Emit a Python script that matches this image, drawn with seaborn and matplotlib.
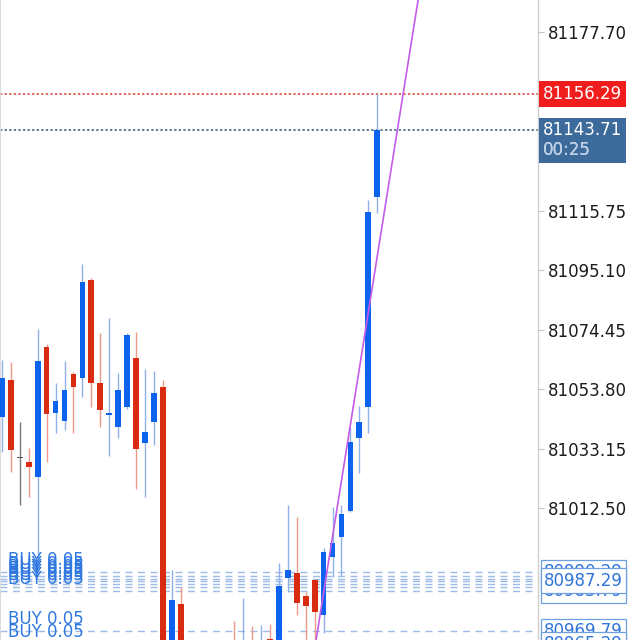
import numpy as np
import pandas as pd
import seaborn as sns
import matplotlib
matplotlib.use("Agg")
import matplotlib.pyplot as plt
from matplotlib.transforms import offset_copy

# ---------------- data ----------------
opens = [81044.1, 81057.0, 81029.9, 81028.5, 81023.3, 81068.4, 81045.5, 81042.7, 81059.1, 81057.7,
         81091.7, 81055.9, 81044.8, 81040.7, 81047.6, 81064.6, 81035.1, 81042.4, 81054.5, 80955.5,
         80979.2, 80958.0, 80950.0, 80956.0, 80948.0, 80952.0, 80962.0, 80950.0, 80963.0, 80952.0,
         80967.0, 80960.0, 80988.2, 80990.0, 80982.0, 80987.5, 80975.4, 80995.5, 81002.5, 81011.5,
         81036.8, 81047.6, 81120.5]
highs = [81063.9, 81063.2, 81042.4, 81033.4, 81074.7, 81069.5, 81055.9, 81063.6, 81059.8, 81097.3,
         81092.4, 81073.3, 81078.5, 81059.4, 81073.3, 81073.6, 81060.8, 81060.1, 81057.0, 80991.0,
         80985.1, 80962.0, 80958.0, 80960.0, 80957.0, 80960.0, 80973.3, 80981.3, 80971.6, 80971.9,
         80972.2, 80993.4, 81013.6, 81009.4, 80983.4, 80987.9, 80998.6, 81012.9, 81013.6, 81040.7,
         81047.9, 81119.5, 81156.29]
lows = [81032.0, 81025.0, 81013.6, 81016.4, 80995.2, 81028.5, 81038.6, 81039.6, 81038.6, 81051.1,
        81047.6, 81040.7, 81030.6, 81036.8, 81046.9, 81019.1, 81016.4, 81034.4, 80950.0, 80950.0,
        80952.0, 80940.0, 80942.0, 80944.0, 80940.0, 80945.0, 80950.0, 80945.0, 80948.0, 80946.0,
        80952.0, 80955.0, 80983.4, 80975.4, 80962.0, 80960.0, 80969.1, 80988.6, 80988.9, 81011.0,
        81024.7, 81038.6, 81115.0]
closes = [81057.7, 81032.7, 81029.9, 81026.8, 81063.6, 81045.2, 81049.7, 81053.5, 81054.5, 81091.0,
          81055.9, 81046.6, 81045.5, 81053.5, 81072.6, 81033.0, 81038.9, 81052.5, 80955.0, 80980.6,
          80958.0, 80950.0, 80956.0, 80948.0, 80952.0, 80962.0, 80955.0, 80962.0, 80955.0, 80963.0,
          80960.0, 80985.5, 80991.0, 80979.5, 80978.5, 80976.4, 80997.3, 81000.4, 81010.4, 81035.4,
          81042.4, 81115.3, 81143.71]

trend_x = [35.0, 47.0]
trend_y = [80963.6, 81197.1]

buy_prices = [80990.29, 80988.90, 80987.90, 80987.29, 80986.10, 80985.10, 80983.79, 80969.79, 80965.29]
buy_label = "BUY 0.05"
buy_right_labels = ["80990.29", "80983.79", "80987.29", "80969.79", "80965.29"]
buy_right_prices = [80990.29, 80983.79, 80987.29, 80969.79, 80965.29]

high_price = 81156.29
last_price = 81143.71
countdown = "00:25"

ytick_values = [81012.50, 81033.15, 81053.80, 81074.45, 81095.10, 81115.75, 81136.40, 81157.05, 81177.70]
ytick_labels = ["81012.50", "81033.15", "81053.80", "81074.45", "81095.10", "81115.75", "", "", "81177.70"]

# ---------------- styling ----------------
sns.set_theme(style="white")
plt.rcParams['font.family'] = ['DejaVu Sans']

UP = "#0d62ee"
DOWN = "#d92b12"
DOJI = "#555555"
UP_W = "#8fb0ea"
DOWN_W = "#ef9a88"
FS = 12

df = pd.DataFrame({"i": np.arange(len(opens)), "open": opens, "high": highs,
                   "low": lows, "close": closes})

fig = plt.figure(figsize=(6.4, 6.4), dpi=100)
ax = fig.add_axes([0, 0, 538 / 640, 1])

body_col, wick_col = [], []
for o, c in zip(df["open"], df["close"]):
    if c > o:
        body_col.append(UP); wick_col.append(UP_W)
    elif c < o:
        body_col.append(DOWN); wick_col.append(DOWN_W)
    else:
        body_col.append(DOJI); wick_col.append("#777777")

ax.vlines(df["i"], df["low"], df["high"], colors=wick_col, linewidth=1.0, zorder=2)
bottoms = np.minimum(df["open"], df["close"])
heights = np.maximum(np.abs(df["close"] - df["open"]), 0.45)
ax.bar(df["i"], heights, bottom=bottoms, width=0.64, color=body_col, linewidth=0, zorder=3)

# buy order lines
for p in buy_prices:
    ax.axhline(p, color="#9dbbe6", linewidth=1.0, linestyle=(0, (5, 4)), zorder=1)

# high / last price lines
ax.axhline(high_price, color="#dd3b30", linewidth=1.1, linestyle=(0, (1.5, 1.5)), zorder=1)
ax.axhline(last_price, color="#34567c", linewidth=1.1, linestyle=(0, (1.5, 1.5)), zorder=1)

# trend line via seaborn
sns.lineplot(x=trend_x, y=trend_y, ax=ax, color="#c35ce8", linewidth=1.2, zorder=4)

ax.set_xlim(-0.22, 60.0)
ax.set_ylim(80966.7, 81188.9)

ax.yaxis.tick_right()
ax.set_yticks(ytick_values)
ax.set_yticklabels(ytick_labels)
ax.tick_params(axis="y", which="major", direction="out", length=4, width=0.8,
               color="#c4c4c4", pad=3, labelsize=FS, labelcolor="#1c1c1c", right=True)
ax.set_xticks([])
for s in ["top", "bottom"]:
    ax.spines[s].set_visible(False)
ax.spines["right"].set_color("#cfcfcf")
ax.spines["right"].set_linewidth(1.0)
ax.spines["left"].set_color("#dcdcdc")
ax.spines["left"].set_linewidth(1.5)

# BUY labels on the left
ytr = ax.get_yaxis_transform()
tr_buy = offset_copy(ytr, fig=fig, x=0, y=3, units="dots")
for p in buy_prices:
    ax.text(0.015, p, buy_label, transform=tr_buy, color="#2f78e0", fontsize=FS,
            va="bottom", ha="left", zorder=6)

# right price labels for orders
for lab, p in zip(buy_right_labels, buy_right_prices):
    ax.text(1.011, p, lab, transform=ytr, color="#2f74d8", fontsize=FS, va="center",
            ha="left", clip_on=False, zorder=10,
            bbox=dict(boxstyle="square,pad=0.2", fc="white", ec="#6e9fe0", lw=0.9))

# high label
ax.text(1.009, high_price, f"{high_price:.2f}", transform=ytr, color="white", fontsize=FS,
        va="center", ha="left", clip_on=False, zorder=11,
        bbox=dict(boxstyle="square,pad=0.22", fc="#f11c1c", ec="none"))

# last price + countdown label
tr_last = offset_copy(ytr, fig=fig, x=0, y=-10, units="dots")
ax.text(1.009, last_price, f"{last_price:.2f}\n{countdown}", transform=tr_last, color="white",
        fontsize=FS, va="center", ha="left", clip_on=False, zorder=11, linespacing=1.1,
        bbox=dict(boxstyle="square,pad=0.22", fc="#3b6a9b", ec="none"))
ax.text(1.009, last_price, f"\n{countdown}", transform=tr_last, color="#b9cde6",
        fontsize=FS, va="center", ha="left", clip_on=False, zorder=12, linespacing=1.1)

fig.savefig("out.png", dpi=100)
